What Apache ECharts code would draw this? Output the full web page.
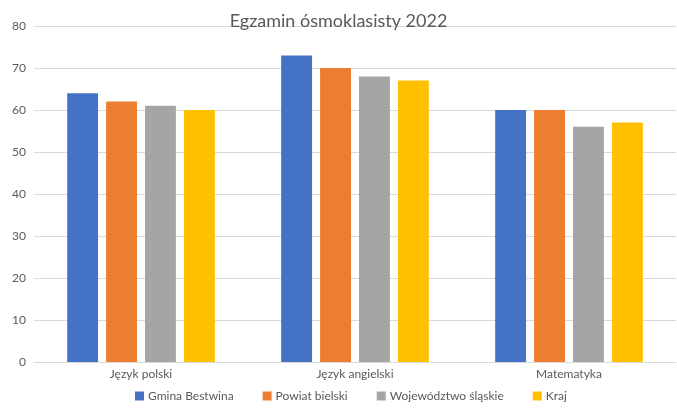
<!DOCTYPE html>
<html><head><meta charset="utf-8">
<script src="https://cdn.jsdelivr.net/npm/echarts@6/dist/echarts.min.js"></script>
<style>html,body{margin:0;padding:0;background:#fff}#c{width:677px;height:409px}</style>
</head><body><div id="c"></div>
<script>
const categories = ['Język polski', 'Język angielski', 'Matematyka'];
const seriesNames = ['Gmina Bestwina', 'Powiat bielski', 'Województwo śląskie', 'Kraj'];
const gmina = [64, 73, 60];
const powiat = [62, 70, 60];
const wojewodztwo = [61, 68, 56];
const kraj = [60, 67, 57];
const yTicks = [0, 10, 20, 30, 40, 50, 60, 70, 80];
const colors = ['#4472C4', '#ED7D31', '#A5A5A5', '#FFC000'];
const values = [gmina, powiat, wojewodztwo, kraj];
const font = 'Lato, "Open Sans", sans-serif';
const chart = echarts.init(document.getElementById('c'), null, {renderer: 'canvas'});
chart.setOption({
  animation: false,
  color: colors,
  title: {text: 'Egzamin ósmoklasisty 2022', left: 'center', top: 7,
    textStyle: {fontFamily: font, fontSize: 18, fontWeight: 'normal', color: '#595959'}},
  grid: {left: 34, right: 1, top: 26, bottom: 47, containLabel: false},
  legend: {top: 385, left: 130, itemWidth: 9, itemHeight: 9, itemGap: 29, icon: 'rect',
    textStyle: {fontFamily: font, fontSize: 12, color: '#595959', padding: [0, 0, 0, -1]}},
  xAxis: {type: 'category', data: categories,
    axisLine: {lineStyle: {color: '#d9d9d9'}}, axisTick: {show: false},
    axisLabel: {fontFamily: font, fontSize: 12, color: '#595959', margin: 6}},
  yAxis: {type: 'value', min: yTicks[0], max: yTicks[yTicks.length-1], interval: 10,
    splitLine: {lineStyle: {color: '#d9d9d9'}}, axisLine: {show: false}, axisTick: {show: false},
    axisLabel: {fontFamily: font, fontSize: 12, color: '#595959', margin: 8}},
  series: values.map((v, i) => ({name: seriesNames[i], type: 'bar', data: v,
    barGap: '26%', barCategoryGap: '31%'}))
});
</script></body></html>
